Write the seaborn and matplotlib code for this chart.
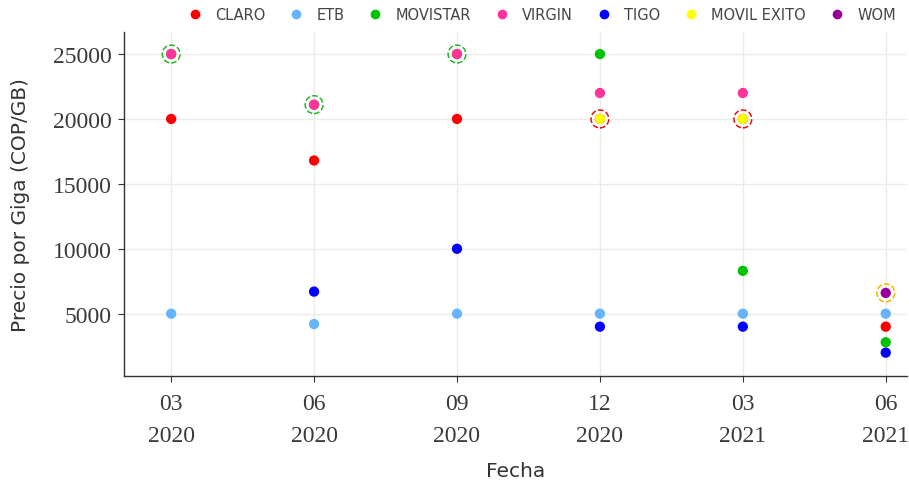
import pandas as pd
import matplotlib.pyplot as plt
import seaborn as sns

# Fechas (mes / año) y operadores
fechas = ["03\n2020", "06\n2020", "09\n2020", "12\n2020", "03\n2021", "06\n2021"]
operadores = ["CLARO", "ETB", "MOVISTAR", "VIRGIN", "TIGO", "MOVIL EXITO", "WOM"]

# Precio por giga de cada operador (None = sin dato)
claro = [20000, 16800, 20000, 20000, 20000, 4000]
etb = [5000, 4200, 5000, 5000, 5000, 5000]
movistar = [25000, 21100, 25000, 25000, 8300, 2800]
virgin = [25000, 21100, 25000, 22000, 22000, None]
tigo = [None, 6700, 10000, 4000, 4000, 2000]
movil_exito = [None, None, None, 20000, 20000, None]
wom = [None, None, None, None, None, 6600]

colores = ["#ff0000", "#66b3ff", "#00c400", "#ff3399", "#0000ff", "#ffff00", "#990099"]

# Puntos resaltados (fecha, operador, color del circulo)
resaltados = [(0, "VIRGIN", "#22bb22"), (1, "VIRGIN", "#22bb22"), (2, "VIRGIN", "#22bb22"),
              (3, "MOVIL EXITO", "#dd1111"), (4, "MOVIL EXITO", "#dd1111"), (5, "WOM", "#f5b400")]

series = [claro, etb, movistar, virgin, tigo, movil_exito, wom]
rows = []
for op, vals in zip(operadores, series):
    for f, v in zip(fechas, vals):
        if v is not None:
            rows.append({"Fecha": f, "Operador": op, "Precio": v})
df = pd.DataFrame(rows)

sns.set_style("white")
fig = plt.figure(figsize=(9.09, 4.85), dpi=100)
ax = fig.add_axes([0.1364, 0.2227, 0.8616, 0.7093])

sns.scatterplot(data=df, x="Fecha", y="Precio", hue="Operador", hue_order=operadores,
                palette=colores, s=55, linewidth=0, ax=ax, legend=False, zorder=3)

# circulos punteados alrededor de puntos superpuestos
for i, op, c in resaltados:
    v = series[operadores.index(op)][i]
    ax.scatter([fechas[i]], [v], s=165, facecolors="none", edgecolors=c,
               linewidths=1.1, linestyles="--", zorder=4)

ax.set_xlim(-0.33, 5.15)
ax.set_ylim(200, 26700)
ax.set_yticks([5000, 10000, 15000, 20000, 25000])
ax.grid(True, color="#ebebeb", linewidth=1)
ax.set_axisbelow(True)
for s in ["top", "right"]:
    ax.spines[s].set_visible(False)
for s in ["left", "bottom"]:
    ax.spines[s].set_color("#333333")
    ax.spines[s].set_linewidth(1)
ax.tick_params(axis="both", length=4, color="#333333", direction="out",
               labelsize=17, labelcolor="#3a3a3a", left=True, bottom=True)
ax.tick_params(axis="y", pad=5)
ax.tick_params(axis="x", pad=8)
for lab in ax.get_xticklabels() + ax.get_yticklabels():
    lab.set_family("Liberation Serif")
for lab in ax.get_xticklabels():
    lab.set_linespacing(1.68)

ax.set_xlabel("Fecha", fontsize=14.5, color="#333333", labelpad=11)
ax.set_ylabel("Precio por Giga (COP/GB)", fontsize=14.5, color="#333333", labelpad=16)

handles = [plt.Line2D([], [], marker="o", linestyle="", markersize=7, color=c, markeredgewidth=0)
           for c in colores]
fig.legend(handles, operadores, loc="upper right", bbox_to_anchor=(1.0, 1.01), ncol=7,
           frameon=False, fontsize=10.5, labelcolor="#444444", handletextpad=0.9,
           columnspacing=1.6, handlelength=1.0)

plt.savefig("out.png", dpi=100)
